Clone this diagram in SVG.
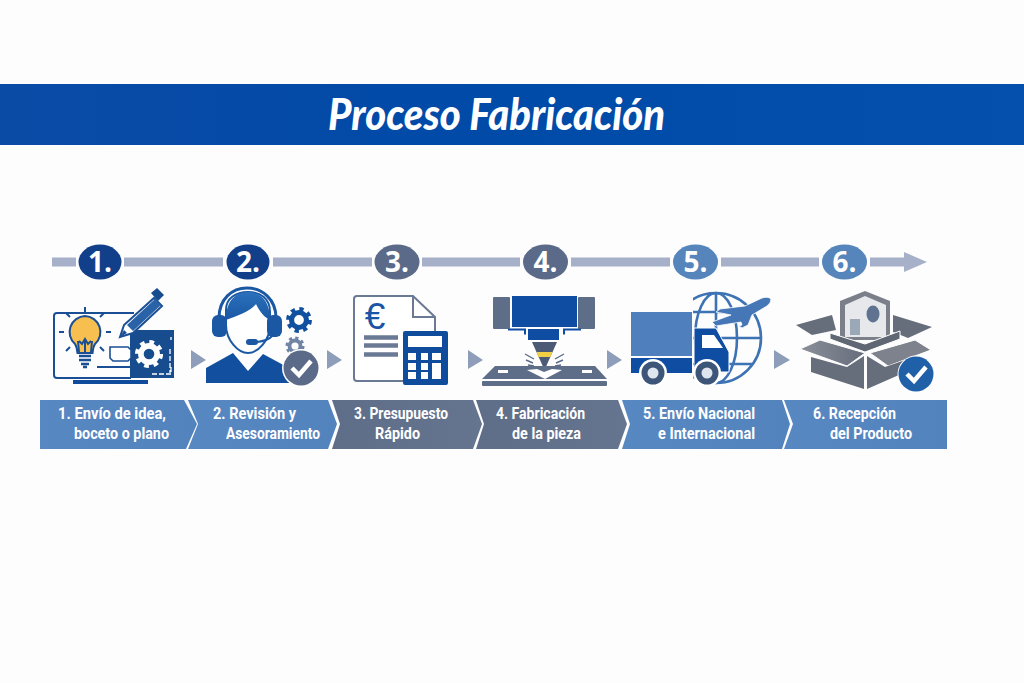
<svg xmlns="http://www.w3.org/2000/svg" width="1024" height="683" viewBox="0 0 1024 683">
<style>
.badge{font:700 28px "Open Sans","Liberation Sans",sans-serif;fill:#fff;text-anchor:middle}
.lbl{font:700 16.500px Roboto,"Liberation Sans",sans-serif;fill:#fff}
.tl{stroke:#a6b0c8;stroke-width:9;fill:none}
.tri{fill:#8d9dba}
.navy{fill:#123f8a}.slate{fill:#5a6a88}.sky{fill:#5585bb}
.dk{fill:#0f4d9c}
.ln{fill:none;stroke:#1a4f95;stroke-width:2}
.gl{fill:none;stroke:#3d73b4;stroke-width:2.600}
</style>
<defs>
<linearGradient id="ban" x1="0" x2="1" y1="0" y2="0"><stop offset="0" stop-color="#0a4ba6"/><stop offset=".5" stop-color="#004aa8"/><stop offset="1" stop-color="#0650ad"/></linearGradient>
<linearGradient id="cb" x1="0" x2="1" y1="0" y2="0"><stop offset="0" stop-color="#5888c2"/><stop offset="1" stop-color="#5383bd"/></linearGradient>
<linearGradient id="cs" x1="0" x2="1" y1="0" y2="0"><stop offset="0" stop-color="#5e6d88"/><stop offset="1" stop-color="#66758f"/></linearGradient>
<linearGradient id="hair" x1="0" x2="0" y1="0" y2="1"><stop offset="0" stop-color="#2a70ba"/><stop offset="1" stop-color="#1a58a4"/></linearGradient>
<linearGradient id="flap" x1="0" x2="1" y1="0" y2="0"><stop offset="0" stop-color="#8a8f99"/><stop offset="1" stop-color="#666d7b"/></linearGradient>
<clipPath id="gc"><rect x="693" y="285" width="80" height="102"/></clipPath>
<g id="gear"><circle r="6.500" fill="none" stroke-width="4.500"/><circle r="9.500" fill="none" stroke-width="3.500" stroke-dasharray="3.700 3.760"/></g>
<marker id="head" markerUnits="userSpaceOnUse" markerWidth="23" markerHeight="20" refX="0" refY="10" orient="auto"><path d="M0 0L23 10L0 20Z" fill="#a6b0c8"/></marker>
</defs>
<rect width="1024" height="683" fill="#fdfdfd"/>
<g id="banner">
<rect x="0" y="84" width="1024" height="61" fill="url(#ban)"/>
<text x="328" y="130" font-family="Lato,'Open Sans',sans-serif" font-weight="900" font-style="italic" font-size="43" fill="#fff" textLength="337" lengthAdjust="spacingAndGlyphs">Proceso Fabricación</text>
</g>
<g id="connectors">
<path class="tl" d="M52 262H76M124 262H223M273 262H372M422 262H520M571 262H670M721 262H819"/>
<path class="tl" d="M870 262H904" marker-end="url(#head)"/>
<path class="tri" d="M191 350L206 360L191 369ZM327 350L342 360L327 369ZM468 350L483 360L468 369ZM607 350L622 360L607 369ZM774 350L790 360L774 369Z"/>
</g>
<g id="node-1">
<ellipse class="navy" cx="100" cy="262" rx="21.500" ry="17.500"/><text class="badge" x="100" y="272">1.</text>
<path class="ln" d="M134 313H57Q54 313 54 316V375Q54 378 57 378H131"/>
<rect class="dk" x="73" y="380" width="75" height="4" fill="#1a4f95"/>
<rect x="130" y="330" width="44" height="48" fill="#174d8f"/>
<use href="#gear" stroke="#fff" transform="translate(149 354) scale(1.250)"/>
<path d="M171 337v3M170 349v24M152 374h19v-8" stroke="#fff" stroke-width="1.300" fill="none" stroke-dasharray="5 2"/>
<path d="M85 316a16 16 0 0 1 10 28q-2 3-2.500 9h-15q-.5-6-2.500-9a16 16 0 0 1 10-28Z" fill="#f6bf4f" stroke="#1a4f95" stroke-width="2"/>
<path d="M79 352l-1-11M85 352v-13M91 352l1-11M79 341l3 3 3-5 3 5 3-3" class="ln" stroke-width="1.500"/>
<path d="M79 356h12M79 360h12M81 364h8M83 367h4" stroke="#1a4f95" stroke-width="2.500" fill="none"/>
<path d="M85 312v-5M64 332h-5M106 332h5M70 317l-4-4M100 317l4-4M70 347l-4 4M100 347l4 4" class="ln" stroke-width="1.600"/>
<path d="M120 337L124 325L154 298L162 306L133 333Z" fill="#fff" stroke="#1a4f95" stroke-width="2"/>
<path d="M120 337L124 330L127 333Z" fill="#1a4f95"/>
<path d="M127 325L155 299L161 305L133 331Z" fill="#2a62a8"/>
<path d="M151 293L157 288L164 295L158 301Z" fill="#174d8f"/>
<path d="M110 347h18l3 3v8l-3 3h-15l-3-3Z" fill="#fff" stroke="#1a4f95" stroke-width="1.600"/>
<path class="ln" d="M97 367h33" stroke-width="1.500"/>
<path fill="url(#cb)" d="M40 400H184L197 424L186 449H40Z"/>
<text class="lbl" x="58" y="419" textLength="108" lengthAdjust="spacingAndGlyphs">1. Envío de idea,</text>
<text class="lbl" x="74" y="439" textLength="95" lengthAdjust="spacingAndGlyphs">boceto o plano</text>
</g>
<g id="node-2">
<ellipse class="navy" cx="248" cy="262" rx="21.500" ry="17.500"/><text class="badge" x="248" y="272">2.</text>
<path d="M206 368L233 353L248 371L263 354L289 368L291 383H206Z" fill="#12509f"/>
<path d="M226 310C226 298 236 292 248 292S270 298 270 312V325C270 340 258 353 248 353S226 340 226 325Z" fill="#fff" stroke="#1a58a4" stroke-width="2"/>
<path d="M226 320C226 300 236 292 248 292S270 300 270 320C262 316 258 308 256 304C250 312 236 316 226 320Z" fill="url(#hair)"/>
<path d="M219 318C219 299 232 288 247 288S276 299 276 318" fill="none" stroke="#1a58a4" stroke-width="3"/>
<rect x="212" y="315" width="15" height="22" rx="6" fill="#1a58a4"/>
<rect x="267" y="315" width="15" height="22" rx="6" fill="#1a58a4"/>
<path d="M257 342Q268 341 273 335" fill="none" stroke="#1a58a4" stroke-width="2"/>
<rect x="246" y="339" width="12" height="6" rx="3" fill="#1a58a4"/>
<use href="#gear" stroke="#12509f" transform="translate(299 320) scale(1.150)"/>
<use href="#gear" stroke="#7085a5" transform="translate(295 346) scale(.85)"/>
<circle cx="301" cy="368" r="19" fill="#fff"/><circle cx="301" cy="368" r="17.500" fill="#5a6a88"/>
<path d="M292 368L299 375L311 361" fill="none" stroke="#fff" stroke-width="4.500"/>
<path fill="url(#cb)" d="M188 400H328L337 424L328 449H188L198 424Z"/>
<text class="lbl" x="213" y="419" textLength="83" lengthAdjust="spacingAndGlyphs">2. Revisión y</text>
<text class="lbl" x="226" y="439" textLength="94" lengthAdjust="spacingAndGlyphs">Asesoramiento</text>
</g>
<g id="node-3">
<ellipse class="slate" cx="397" cy="262" rx="22.500" ry="17.500"/><text class="badge" x="397" y="272">3.</text>
<path d="M403 381H357Q354 381 354 378V299Q354 296 357 296H413L435 317V331" fill="#fff" stroke="#6b7a94" stroke-width="2"/>
<path d="M413 296V317H435" fill="none" stroke="#6b7a94" stroke-width="2"/>
<text x="375" y="329" font-family="'Liberation Sans',sans-serif" font-size="37" fill="#1a55a5" text-anchor="middle">€</text>
<path d="M364 337.500H398M364 345.500H398M364 354.500H398" stroke="#6b7a94" stroke-width="4.500"/>
<rect class="dk" x="403" y="331" width="45" height="54" rx="2"/>
<path fill="#fff" d="M408 336h34v11h-34zM408 353h8v7h-8zM421 353h7v7h-7zM432 353h9v7h-9zM408 363h8v7h-8zM421 363h7v7h-7zM408 372h8v7h-8zM421 372h7v7h-7zM432 363h9v16h-9z"/>
<path fill="url(#cs)" d="M332 400H473L482 424L473 449H332L340 424Z"/>
<text class="lbl" x="354" y="419" textLength="94" lengthAdjust="spacingAndGlyphs">3. Presupuesto</text>
<text class="lbl" x="375" y="439" textLength="45" lengthAdjust="spacingAndGlyphs">Rápido</text>
</g>
<g id="node-4">
<ellipse class="slate" cx="545.500" cy="262" rx="22.500" ry="17.500"/><text class="badge" x="545.500" y="272">4.</text>
<rect x="493" y="297" width="17" height="32" rx="1" fill="#5f6e88"/><rect x="578" y="297" width="17" height="32" rx="1" fill="#5f6e88"/>
<rect x="512" y="296" width="65" height="31" fill="#0f4da3"/>
<path d="M508 329.500h17v5M581 329.500h-17v5" fill="none" stroke="#0f4da3" stroke-width="2"/>
<rect x="528" y="329" width="31" height="11" fill="#0f4da3"/>
<path d="M532 342H557L544.500 370Z" fill="#4c5a75"/>
<path d="M536.500 352H552.500L550.300 357H538.700Z" fill="#f3cf45"/>
<path d="M525 354l9 5M526 360l7 3M528 365l6 1M564 354l-9 5M563 360l-7 3M561 365l-6 1" stroke="#5a6a88" stroke-width="1.400" fill="none"/>
<path d="M495 366H595L607 379H482Z" fill="#5f6e88"/>
<path d="M527 370L537 369L544 372L552 369L562 370L545 379Z" fill="#fff"/>
<path d="M498 370h10v3h-10zM582 370h10v3h-10z" fill="#fff"/>
<rect x="482" y="381" width="125" height="5" rx="1" fill="#5f6e88"/>
<path fill="url(#cs)" d="M476 400H618L627 424L618 449H476L484 424Z"/>
<text class="lbl" x="496" y="419" textLength="89" lengthAdjust="spacingAndGlyphs">4. Fabricación</text>
<text class="lbl" x="512" y="439" textLength="69" lengthAdjust="spacingAndGlyphs">de la pieza</text>
</g>
<g id="node-5">
<ellipse class="sky" cx="695.500" cy="262" rx="22.500" ry="17.500"/><text class="badge" x="695.500" y="272">5.</text>
<g clip-path="url(#gc)">
<circle class="gl" cx="716" cy="338" r="45"/>
<ellipse class="gl" cx="716" cy="338" rx="21" ry="45"/>
<path class="gl" d="M716 293V383M680 312H752M671 338H761M680 364H752"/>
</g>
<rect x="631" y="312" width="61" height="44" fill="#4f7fbd"/>
<rect x="631" y="358" width="61" height="15" fill="#0f4da3"/>
<path d="M694 328H716L729 352V372H694Z" fill="#0f4da3" stroke="#fff" stroke-width="1"/>
<path d="M702 335H714L723 348H702Z" fill="#fff"/>
<circle cx="653" cy="373" r="14" fill="#fff"/><circle cx="653" cy="373" r="11.500" fill="#3c5578"/><circle cx="653" cy="373" r="5.500" fill="#dfe5ee"/>
<circle cx="707" cy="373" r="14" fill="#fff"/><circle cx="707" cy="373" r="11.500" fill="#3c5578"/><circle cx="707" cy="373" r="5.500" fill="#dfe5ee"/>
<path d="M771 299Q768 296 762 298L745 306L720 309L716 312L731 315L712 322L716 326L741 322L742 325L739 326L742 328L748 325L752 315L767 306Q771 303 771 299Z" fill="#4576b5" stroke="#fff" stroke-width=".8"/>
<path fill="url(#cb)" d="M622 400H782L790 424L782 449H622L630 424Z"/>
<text class="lbl" x="643" y="419" textLength="112" lengthAdjust="spacingAndGlyphs">5. Envío Nacional</text>
<text class="lbl" x="658" y="439" textLength="97" lengthAdjust="spacingAndGlyphs">e Internacional</text>
</g>
<g id="node-6">
<ellipse class="sky" cx="844.500" cy="262" rx="22.500" ry="17.500"/><text class="badge" x="844.500" y="272">6.</text>
<path d="M796 325L832 315L836 330L812 335Z" fill="#666d7b"/>
<path d="M893 315L932 327L908 338L893 332Z" fill="#666d7b"/>
<path d="M865 291L890 301V340H840V301Z" fill="#7a7f89"/>
<path d="M865 296L886 305V337H845V305Z" fill="#e6e8ec"/>
<ellipse cx="873" cy="314" rx="6.500" ry="8.500" fill="#5f7391"/>
<path d="M850 319h10v16h-10z" fill="#9aa8b8"/>
<path d="M830 333L865 344L900 331V339L865 352L830 339Z" fill="#5f6674" stroke="#fff" stroke-width="1"/>
<path d="M800 349L820 340L865 353L847 366Z" fill="url(#flap)" stroke="#fff" stroke-width="1"/>
<path d="M870 353L915 340L931 350L888 366Z" fill="#7d828c" stroke="#fff" stroke-width="1"/>
<path d="M811 357L847 367L864 356V389L811 372Z" fill="#666d7b"/>
<path d="M867 356L885 367L908 359V371L867 389Z" fill="#666d7b"/>
<circle cx="916" cy="374" r="18.500" fill="#fff"/><circle cx="916" cy="374" r="17.500" fill="#2060a8"/>
<path d="M907 374L914 381L926 367" fill="none" stroke="#fff" stroke-width="4.500"/>
<path fill="url(#cb)" d="M784 400H947V449H784L793 424Z"/>
<text class="lbl" x="813" y="419" textLength="83" lengthAdjust="spacingAndGlyphs">6. Recepción</text>
<text class="lbl" x="830" y="439" textLength="82" lengthAdjust="spacingAndGlyphs">del Producto</text>
</g>
</svg>
